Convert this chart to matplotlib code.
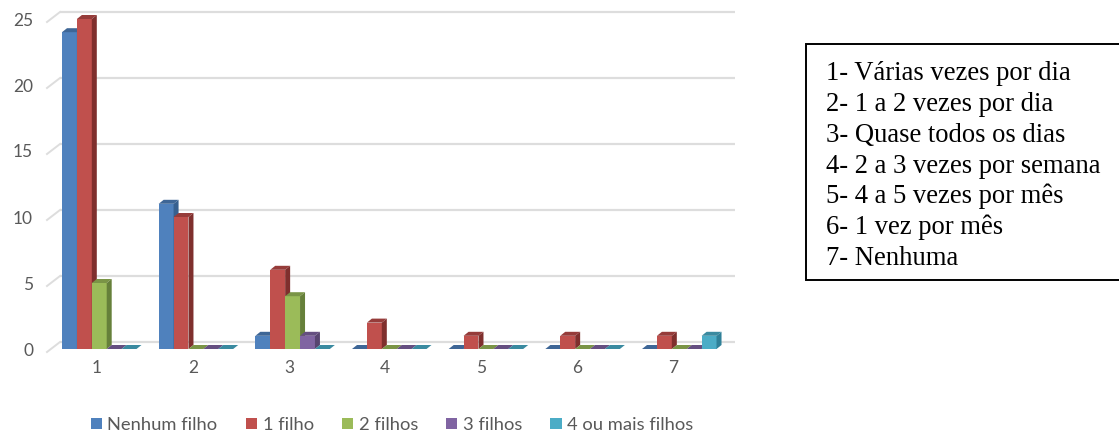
import matplotlib
matplotlib.use("Agg")
import matplotlib.pyplot as plt
from matplotlib.patches import Polygon, Rectangle, Patch
import numpy as np

categories = [1, 2, 3, 4, 5, 6, 7]
nenhum = [24, 11, 1, 0, 0, 0, 0]
um = [25, 10, 6, 2, 1, 1, 1]
dois = [5, 0, 4, 0, 0, 0, 0]
tres = [0, 0, 1, 0, 0, 0, 0]
quatro = [0, 0, 0, 0, 0, 0, 1]
series_names = ["Nenhum filho", "1 filho", "2 filhos", "3 filhos", "4 ou mais filhos"]
series = [nenhum, um, dois, tres, quatro]
yticks = [0, 5, 10, 15, 20, 25]
box_lines = ["1- Várias vezes por dia", "2- 1 a 2 vezes por dia", "3- Quase todos os dias",
             "4- 2 a 3 vezes por semana", "5- 4 a 5 vezes por mês", "6- 1 vez por mês", "7- Nenhuma"]

front = ["#4F81BD", "#C0504D", "#9BBB59", "#8064A2", "#4BACC6"]
side = ["#37608F", "#7F2F2D", "#66803A", "#574470", "#2F8098"]
top = ["#3E6696", "#963C3A", "#7A9446", "#654F81", "#3A8AA0"]

W, H = 1119, 437
fig = plt.figure(figsize=(W / 100, H / 100), dpi=100)
L, R, B, T = 47, 735, 349, 12
ax = fig.add_axes([L / W, 1 - B / H, (R - L) / W, (B - T) / H])
ppx = 96.67
ppy = 13.2
x0 = 1 - 52.25 / ppx
ax.set_xlim(x0, x0 + (R - L) / ppx)
ax.set_ylim(0, (B - T) / ppy)
for s in ax.spines.values():
    s.set_visible(False)

bw = 14.9 / ppx
dx, dy = 5 / ppx, 4 / ppy
gx, gy = 13 / ppx, 7 / ppy
grid = "#DDDDDD"
xl = ax.get_xlim()
for v in yticks:
    ax.plot([xl[0] + gx, xl[1]], [v + gy, v + gy], color=grid, lw=1.6, zorder=1, clip_on=False,
            solid_capstyle="butt")
    ax.plot([xl[0], xl[0] + gx], [v - 3 / ppy, v + gy], color=grid, lw=1.4, zorder=1, clip_on=False)

z = 3
for i, c in enumerate(categories):
    for j, vals in enumerate(series):
        v = vals[i]
        x = c + (j - 2.5) * bw
        ax.add_patch(Rectangle((x, 0), bw, v, fc=front[j], ec="none", zorder=z))
        ax.add_patch(Polygon([(x, v), (x + dx, v + dy), (x + bw + dx, v + dy), (x + bw, v)],
                             fc=top[j], ec="none", zorder=z, clip_on=False))
        ax.add_patch(Polygon([(x + bw, 0), (x + bw + dx, dy), (x + bw + dx, v + dy), (x + bw, v)],
                             fc=side[j], ec="none", zorder=z, clip_on=False))
        z += 1

sans = ["Lato", "DejaVu Sans"]
label_pos = [x0 + (97 + 96 * (c - 1) - L) / ppx for c in categories]
ax.set_xticks(label_pos, [str(c) for c in categories])
ax.set_yticks(yticks)
ax.tick_params(length=0, labelcolor="#595959")
ax.tick_params(axis="x", pad=8)
ax.tick_params(axis="y", pad=10)
for t in ax.get_xticklabels() + ax.get_yticklabels():
    t.set_fontfamily(sans)
    t.set_fontsize(12.5)

handles = [Patch(fc=c, ec="none", label=n) for c, n in zip(front, series_names)]
fig.legend(handles=handles, ncol=5, loc="center", bbox_to_anchor=(392 / W, 1 - 425 / H), frameon=False,
           prop={"family": sans, "size": 13.2}, labelcolor="#595959", handlelength=0.62, handleheight=0.62,
           handletextpad=0.3, columnspacing=1.53, borderpad=0, borderaxespad=0)

fig.add_artist(Rectangle((806 / W, 1 - 280 / H), (W + 20 - 806) / W, (280 - 44) / H, fc="white", ec="black",
                         lw=1.4, transform=fig.transFigure))
for k, line in enumerate(box_lines):
    fig.text(826 / W, 1 - (80.5 + 30.7 * k) / H, line, family="Liberation Serif", fontsize=19.2,
             color="black", va="baseline", ha="left")

fig.savefig("out.png", dpi=100)
